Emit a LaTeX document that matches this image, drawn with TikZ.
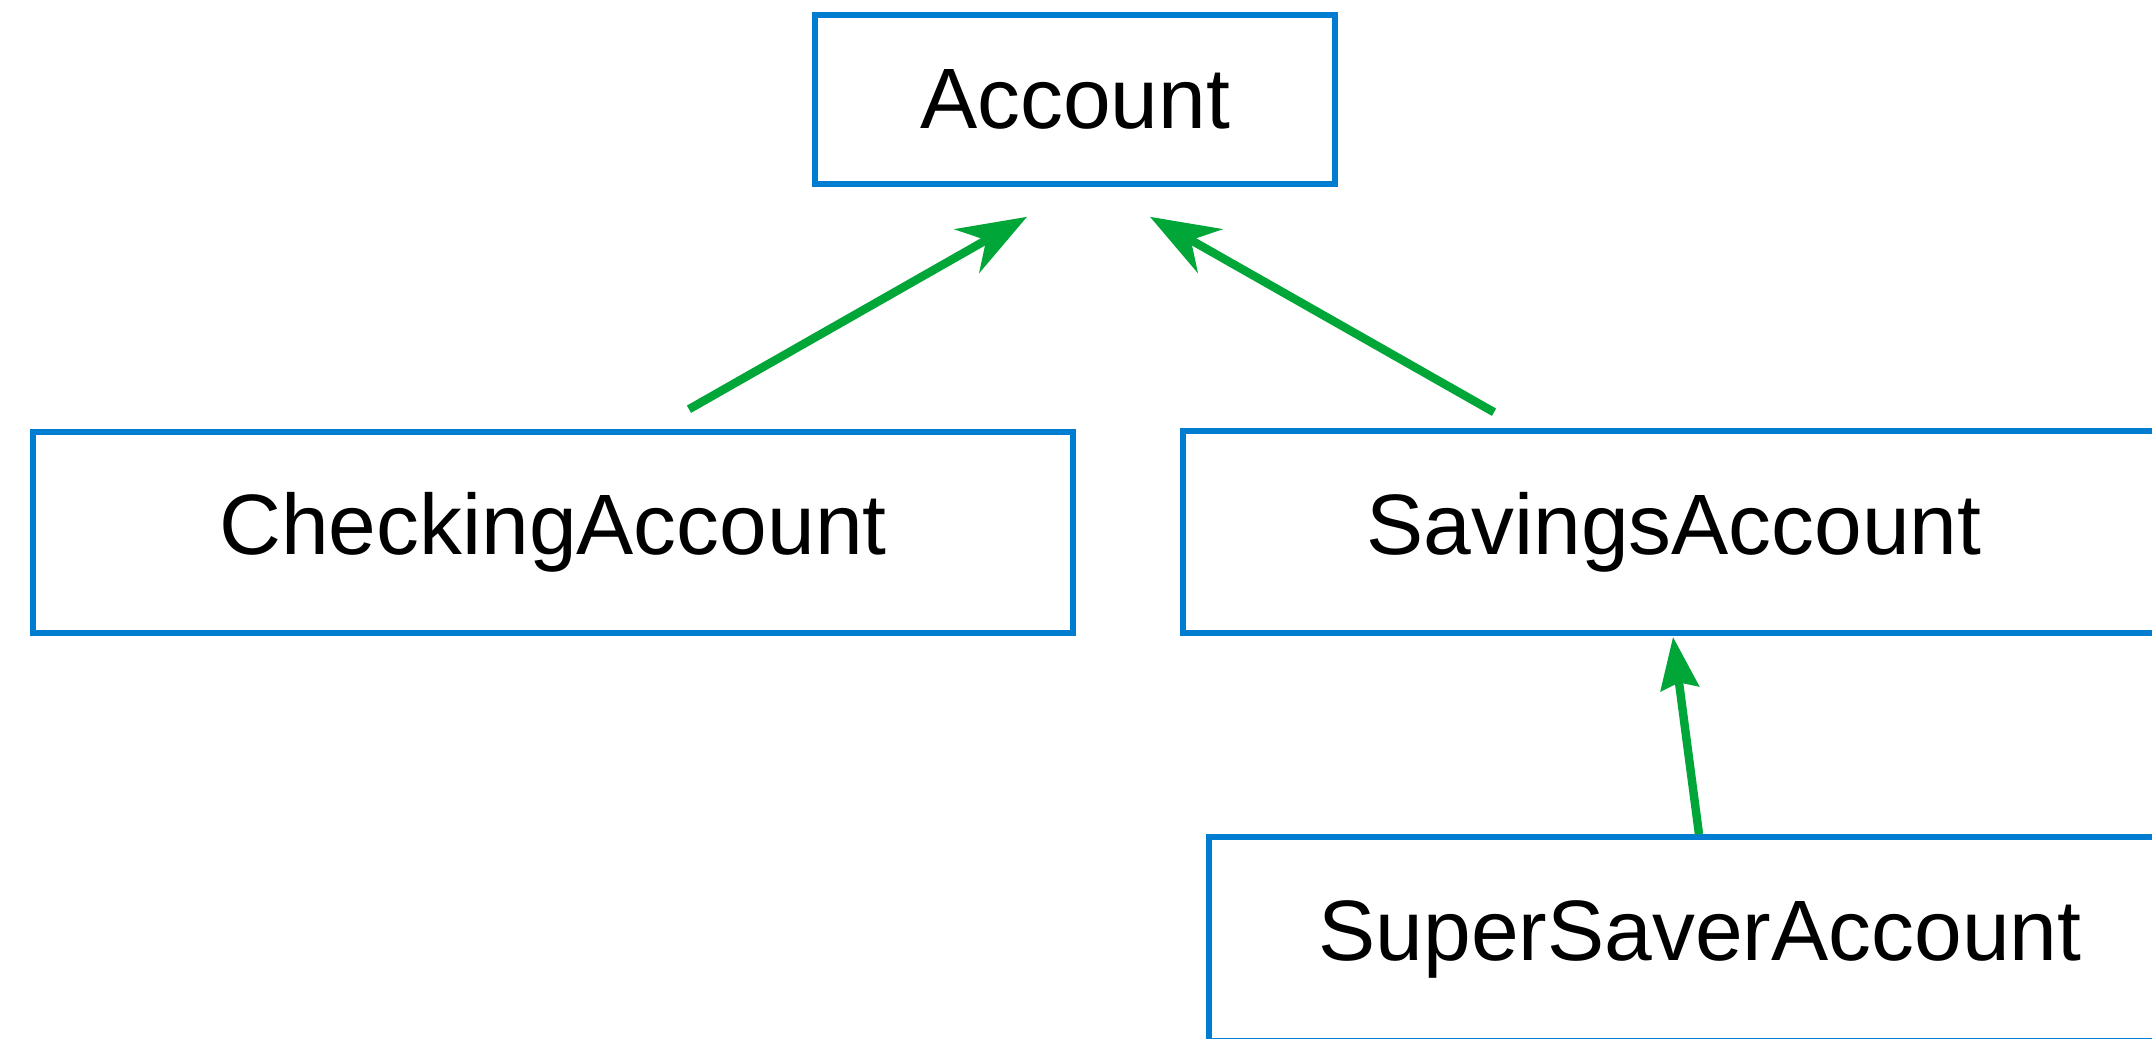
\documentclass[tikz,border=0pt]{standalone}
\usepackage{fontspec}
\setmainfont{Liberation Sans}
\usetikzlibrary{arrows.meta}
\definecolor{boxblue}{RGB}{0,125,208}
\definecolor{arrowgreen}{RGB}{0,166,56}
\tikzset{
    every node/.style={font=\fontsize{24.4}{29}\selectfont, inner sep=0pt}
}
\tikzset{
    class/.style={draw=boxblue, line width=1.6pt, rectangle}
}
\tikzset{
    inherits/.style={draw=arrowgreen, line width=2.4pt,
    	-{Stealth[length=0.69cm, width=0.5cm, inset=0.22cm]}},
    inheritsmall/.style={draw=arrowgreen, line width=2.4pt,
    	-{Stealth[length=0.52cm, width=0.38cm, inset=0.06cm]}}
}

\begin{document}
\begin{tikzpicture}
	\clip (0,0) rectangle (21.52,-10.38);
	\fill[white] (0,0) rectangle (21.52,-10.38);

	\node (account) [class, minimum width=5.2cm, minimum height=1.69cm]
		at (10.75,-0.995) {Account};
	\node (checking) [class, minimum width=10.4cm, minimum height=2.01cm]
		at (5.53,-5.325) {CheckingAccount};
	\node (savings) [class, minimum width=9.82cm, minimum height=2.02cm]
		at (16.74,-5.32) {SavingsAccount};
	\node (supersaver) [class, minimum width=9.82cm, minimum height=2.04cm]
		at (17.00,-9.39) {SuperSaverAccount};

	\draw[inherits] ([xshift=1.36cm, yshift=0.20cm]checking.north)
		-- ([xshift=-0.48cm, yshift=-0.30cm]account.south);
	\draw[inherits] ([xshift=-1.80cm, yshift=0.16cm]savings.north)
		-- ([xshift=0.75cm, yshift=-0.30cm]account.south);
	\draw[inheritsmall] ([xshift=-0.01cm]supersaver.north)
		-- ([xshift=-0.01cm, yshift=-0.01cm]savings.south);
\end{tikzpicture}
\end{document}
